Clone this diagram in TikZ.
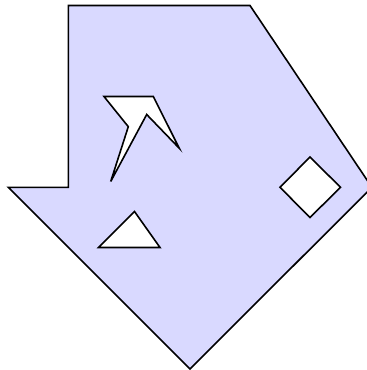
\documentclass[tikz,border=0pt]{standalone}
\usepackage{tikz}
\tikzset{shapefill/.style={fill=blue!15, draw=black, line width=1.6pt, even odd rule, line join=miter}}
\begin{document}
\begin{tikzpicture}[x=1pt,y=-1pt]
\clip (0,0) rectangle (367,370);
\draw[shapefill]
  (68.3,5.5) -- (250,5.5) -- (371.9,187.3) -- (190,369) -- (8.3,187.3) -- (68.3,187.3) -- cycle
  (104,96.5) -- (153.3,96.5) -- (179.3,148.3) -- (146.7,114.5) -- (110.7,181.5) -- (128.3,126.7) -- cycle
  (98.5,247.5) -- (134.5,211.5) -- (160,247.5) -- cycle
  (280,187.3) -- (310,157) -- (340.5,187.3) -- (310,217.5) -- cycle;
\end{tikzpicture}
\end{document}
